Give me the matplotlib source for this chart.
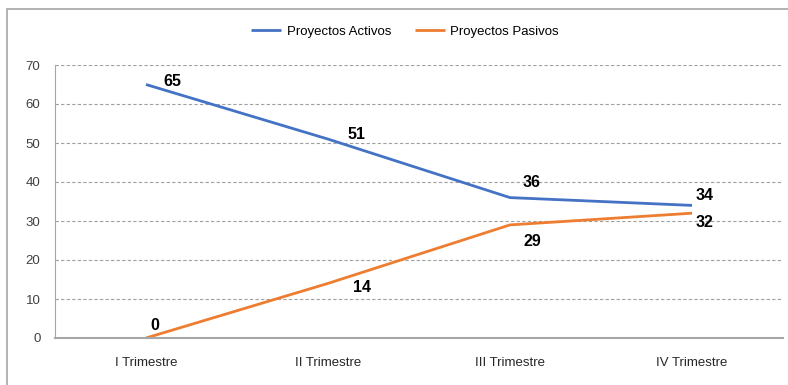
import matplotlib
matplotlib.use("Agg")
import matplotlib.pyplot as plt
from matplotlib.patches import Rectangle
from matplotlib import font_manager

names = {f.name for f in font_manager.fontManager.ttflist}
fam = ['Liberation Sans Narrow', 'Liberation Sans', 'DejaVu Sans'] if 'Liberation Sans Narrow' in names else ['Liberation Sans', 'DejaVu Sans']
plt.rcParams['font.family'] = fam

categories = ["I Trimestre", "II Trimestre", "III Trimestre", "IV Trimestre"]
activos = [65, 51, 36, 34]
pasivos = [0, 14, 29, 32]
yticks = [0, 10, 20, 30, 40, 50, 60, 70]

blue = "#4472C4"
orange = "#ED7D31"

W, H = 788, 385
fig = plt.figure(figsize=(W / 100, H / 100), dpi=100)
ax = fig.add_axes([55 / W, 1 - 338 / H, (783 - 55) / W, (338 - 65) / H])

# outer chart border (partially cropped)
fig.patches.append(Rectangle((7 / W, -0.1), 1.2, 1 - 9 / H + 0.1, transform=fig.transFigure,
                             fill=False, edgecolor="#a6a6a6", linewidth=1.2))

x = list(range(len(categories)))
ax.plot(x, activos, color=blue, linewidth=2, label="Proyectos Activos", solid_capstyle="butt")
ax.plot(x, pasivos, color=orange, linewidth=2, label="Proyectos Pasivos", solid_capstyle="butt")

ax.set_xlim(-0.5, len(categories) - 0.5)
ax.set_ylim(0, 70)
ax.set_yticks(yticks)
ax.set_xticks(x)
ax.set_xticklabels(categories)
ax.tick_params(axis='x', length=0, pad=14, labelsize=9.5, labelcolor="#262626")
ax.tick_params(axis='y', length=0, pad=10.5, labelsize=9.5, labelcolor="#404040")

ax.grid(axis='y', linestyle=(0, (3, 2)), color="#a0a0a0", linewidth=0.8)
ax.set_axisbelow(True)
for s in ["top", "right"]:
    ax.spines[s].set_visible(False)
ax.spines["left"].set_color("#a6a6a6")
ax.spines["bottom"].set_color("#a6a6a6")
ax.spines["bottom"].set_linewidth(1.5)

# data label offsets in pixels (dx right, dy down) -> points
act_off_px = [(26, -3), (29, -5), (22, -15), (13, -10)]
pas_off_px = [(9, -13), (34, 4), (22, 17), (13, 9)]

def lab(i, v, off):
    dx, dy = off
    ax.annotate(str(v), (i, v), xytext=(dx * 0.72, -dy * 0.72), textcoords="offset points",
                fontsize=11.5, fontweight="bold", color="black", ha="center", va="center")

for i, v in enumerate(activos):
    lab(i, v, act_off_px[i])
for i, v in enumerate(pasivos):
    lab(i, v, pas_off_px[i])

fig.legend(loc="center", bbox_to_anchor=(405 / W, 1 - 32 / H), ncol=2, frameon=False,
           fontsize=9.5, handlelength=2.3, columnspacing=1.8, handletextpad=0.4)

fig.savefig("out.png", dpi=100)
